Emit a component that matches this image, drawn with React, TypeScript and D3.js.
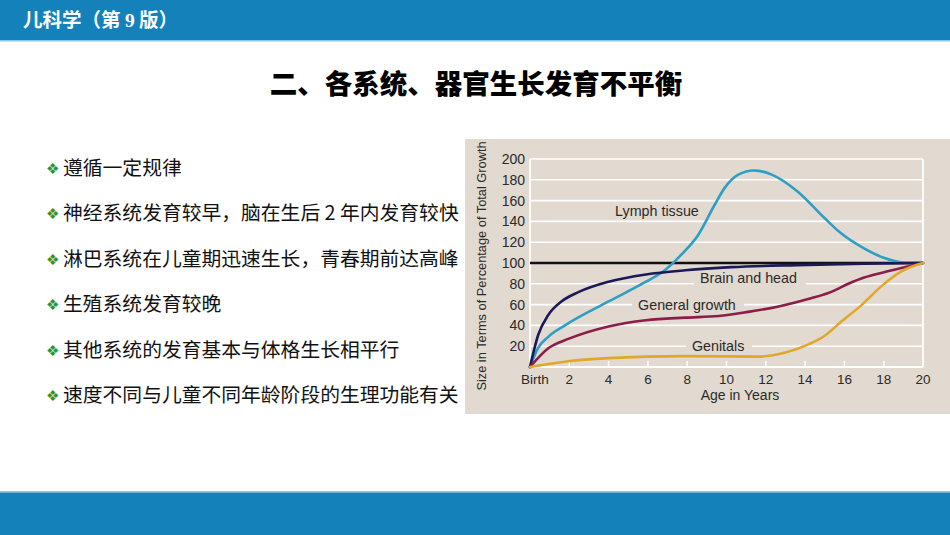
import React from "react";
import * as d3 from "d3";

const headerMain = "儿科学（第 ";
const headerNum = "9";
const headerEnd = " 版）";
const titleText = "二、各系统、器官生长发育不平衡";
const bullets = [
  "遵循一定规律",
  "神经系统发育较早，脑在生后 2 年内发育较快",
  "淋巴系统在儿童期迅速生长，青春期前达高峰",
  "生殖系统发育较晚",
  "其他系统的发育基本与体格生长相平行",
  "速度不同与儿童不同年龄阶段的生理功能有关",
];

const xTicks = [0, 2, 4, 6, 8, 10, 12, 14, 16, 18, 20];
const xTickLabels = ["Birth", "2", "4", "6", "8", "10", "12", "14", "16", "18", "20"];
const yTicks = [20, 40, 60, 80, 100, 120, 140, 160, 180, 200];

const lymph: [number, number][] = [
  [0, 0], [0.4, 18], [0.93, 29], [1.78, 40], [4, 63], [5.9, 82], [6.86, 93], [7.7, 108],
  [8.56, 127], [9.4, 156], [9.9, 172], [10.6, 185], [11.4, 189], [12.3, 185], [13.6, 169],
  [15, 143], [15.8, 129], [17, 114], [18, 105], [19, 100.5], [20, 100],
];
const brain: [number, number][] = [
  [0, 0], [0.42, 31], [0.93, 50], [1.6, 63], [2.46, 72], [4, 82], [5.9, 89], [7.9, 93],
  [10.25, 96], [13.6, 98], [17, 99.3], [20, 100],
];
const general: [number, number][] = [
  [0, 0], [0.93, 18], [1.95, 27], [4, 39], [5.9, 45], [7.9, 47.5], [9.6, 49], [11.1, 53],
  [12.6, 58], [14.3, 66], [15.3, 72], [16.2, 80], [17, 86], [18.2, 92], [20, 100],
];
const genitals: [number, number][] = [
  [0, 0], [1.95, 5.5], [4, 8.5], [5.9, 10], [7.9, 10.5], [11.6, 10], [13, 14], [14.2, 22],
  [15, 30], [15.8, 43], [16.9, 60], [17.9, 78], [18.9, 92], [20, 100],
];

const seriesNames = ["Lymph tissue", "Brain and head", "General growth", "Genitals"];
const seriesData = [lymph, brain, general, genitals];
const seriesColors = ["#2b9fc6", "#1b1a57", "#8c1c48", "#e1a72a"];
const labelPos: [number, number][] = [[4.33, 150], [8.65, 85.5], [5.5, 60], [8.24, 20]];

export default function App() {
  const x = d3.scaleLinear().domain([0, 20]).range([530, 923]);
  const y = d3.scaleLinear().domain([0, 200]).range([367, 159]);
  const line = d3
    .line<[number, number]>()
    .x((d) => x(d[0]))
    .y((d) => y(d[1]))
    .curve(d3.curveMonotoneX);

  const cjk = '"Noto Sans CJK SC", "Noto Sans", sans-serif';
  const sans = '"Liberation Sans", Arial, sans-serif';
  const labelW = [88, 100, 100, 54];
  const bg = "#e2d9d0";

  return (
    <div style={{ position: "fixed", left: 0, top: 0 }}>
      <svg width={950} height={535} style={{ display: "block", background: "#fff" }}>
        {/* header */}
        <rect x={0} y={0} width={950} height={40} fill="#1581ba" />
        <rect x={0} y={40} width={950} height={1.5} fill="#8cc6e6" />
        <text x={23} y={27} fill="#fff" fontFamily={cjk} fontWeight={700} fontSize={19.5}>
          {headerMain}
          <tspan fontFamily='"Liberation Serif", serif'>{headerNum}</tspan>
          {headerEnd}
        </text>
        {/* title */}
        <text x={476} y={94} textAnchor="middle" fill="#000" fontFamily={cjk} fontWeight={900} fontSize={27.5}>
          {titleText}
        </text>
        {/* bullets */}
        {bullets.map((b, i) => (
          <g key={i}>
            <text x={46} y={174 + i * 45.4} fill="#2e952e" fontFamily='"DejaVu Sans", sans-serif' fontSize={15}>
              ❖
            </text>
            <text x={63} y={175 + i * 45.4} fill="#111" fontFamily={cjk} fontSize={19.8}>
              {b}
            </text>
          </g>
        ))}
        {/* bottom bar */}
        <rect x={0} y={491} width={950} height={1.5} fill="#8cc6e6" />
        <rect x={0} y={492.5} width={950} height={42.5} fill="#1581ba" />
        {/* chart panel */}
        <rect x={465} y={139} width={485} height={275} fill={bg} />
        {/* grid */}
        {yTicks.map((t) => (
          <line key={t} x1={x(0)} x2={x(20)} y1={y(t)} y2={y(t)} stroke="#fff" strokeWidth={1.6} />
        ))}
        <line x1={x(0)} x2={x(20)} y1={y(0)} y2={y(0)} stroke="#fff" strokeWidth={1.8} />
        <line x1={x(0)} x2={x(0)} y1={y(0)} y2={y(200)} stroke="#fff" strokeWidth={1.8} />
        <line x1={x(20)} x2={x(20)} y1={y(0)} y2={y(200)} stroke="#fff" strokeWidth={1.8} />
        {xTicks.slice(1, -1).map((t) => (
          <line key={t} x1={x(t)} x2={x(t)} y1={y(0)} y2={y(0) - 6} stroke="#fff" strokeWidth={1.6} />
        ))}
        {/* labels background */}
        {seriesNames.map((n, i) => (
          <rect
            key={n}
            x={x(labelPos[i][0]) - 6}
            y={y(labelPos[i][1]) - 8}
            width={labelW[i] + 12}
            height={16}
            fill={bg}
          />
        ))}
        {/* 100 line */}
        <line x1={x(0)} x2={x(20)} y1={y(100)} y2={y(100)} stroke="#111" strokeWidth={2.4} />
        {/* curves */}
        {seriesData.map((d, i) => (
          <path key={i} d={line(d) || ""} fill="none" stroke={seriesColors[i]} strokeWidth={2.6} strokeLinecap="round" />
        ))}
        {seriesNames.map((n, i) => (
          <text key={n} x={x(labelPos[i][0])} y={y(labelPos[i][1]) + 5} fill="#2a2a2a" fontFamily={sans} fontSize={14.3}>
            {n}
          </text>
        ))}
        {/* y ticks */}
        {yTicks.map((t) => (
          <text key={t} x={525} y={y(t) + 5} textAnchor="end" fill="#2a2a2a" fontFamily={sans} fontSize={14}>
            {t}
          </text>
        ))}
        {xTicks.map((t, i) => (
          <text
            key={t}
            x={i === 0 ? x(t) + 5 : x(t)}
            y={384}
            textAnchor="middle"
            fill="#2a2a2a"
            fontFamily={sans}
            fontSize={13.5}
          >
            {xTickLabels[i]}
          </text>
        ))}
        <text x={740} y={399.5} textAnchor="middle" fill="#2a2a2a" fontFamily={sans} fontSize={14}>
          Age in Years
        </text>
        <text
          transform={`translate(486,266) rotate(-90)`}
          textAnchor="middle"
          fill="#2a2a2a"
          fontFamily={sans}
          fontSize={12.8}
        >
          Size in Terms of Percentage of Total Growth
        </text>
      </svg>
    </div>
  );
}
